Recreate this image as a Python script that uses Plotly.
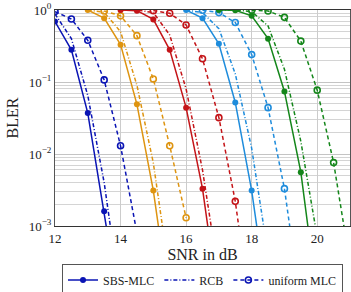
import plotly.graph_objects as go

# ---- data ----
snr_blue = [12, 12.5, 13, 13.5, 14]
sbs_blue = [0.69, 0.28, 0.037, 0.0016, 0.00006]
rcb_blue = [0.88, 0.40, 0.065, 0.0040, 0.0001]
uni_blue_x = [12, 12.5, 13, 13.5, 14, 14.5]
uni_blue = [0.95, 0.75, 0.38, 0.107, 0.013, 0.0008]

snr_orange = [13, 13.5, 14, 14.5, 15, 15.5]
sbs_orange = [1.0, 0.77, 0.33, 0.049, 0.0031, 0.00008]
rcb_orange = [1.0, 0.93, 0.50, 0.09, 0.0075, 0.0002]
uni_orange_x = [13.5, 14, 14.5, 15, 15.5, 16]
uni_orange = [0.97, 0.83, 0.44, 0.11, 0.013, 0.0013]

snr_red = [14, 14.5, 15, 15.5, 16, 16.5, 17]
sbs_red = [1.0, 0.98, 0.74, 0.28, 0.044, 0.0033, 0.00008]
rcb_red = [1.0, 1.0, 0.92, 0.45, 0.08, 0.006, 0.0002]
uni_red_x = [15, 15.5, 16, 16.5, 17, 17.5, 18]
uni_red = [0.98, 0.90, 0.62, 0.21, 0.032, 0.0022, 0.00005]

snr_lblue = [16, 16.5, 17, 17.5, 18, 18.5]
sbs_lblue = [1.0, 0.77, 0.34, 0.052, 0.0031, 0.00008]
rcb_lblue = [1.0, 0.92, 0.55, 0.13, 0.012, 0.0004]
uni_lblue_x = [16.5, 17, 17.5, 18, 18.5, 19, 19.5]
uni_lblue = [0.99, 0.92, 0.67, 0.24, 0.044, 0.0033, 0.00008]

snr_green = [17, 17.5, 18, 18.5, 19, 19.5, 20]
sbs_green = [1.0, 0.99, 0.83, 0.40, 0.074, 0.0056, 0.0001]
rcb_green = [1.0, 1.0, 0.95, 0.60, 0.15, 0.015, 0.0007]
uni_green_x = [18, 18.5, 19, 19.5, 20, 20.5, 21]
uni_green = [0.99, 0.97, 0.79, 0.37, 0.077, 0.0076, 0.0003]

x_ticks = [12, 14, 16, 18, 20]
y_ticks = [1, 0.1, 0.01, 0.001]
y_ticktext = ["10<sup>0</sup>", "10<sup>\u22121</sup>", "10<sup>\u22122</sup>", "10<sup>\u22123</sup>"]

colors = {
    "blue": "#0a14b4",
    "orange": "#de9410",
    "red": "#c41418",
    "lblue": "#1e8cdc",
    "green": "#14861a",
}

groups = [
    ("blue", snr_blue, sbs_blue, rcb_blue, uni_blue_x, uni_blue),
    ("orange", snr_orange, sbs_orange, rcb_orange, uni_orange_x, uni_orange),
    ("red", snr_red, sbs_red, rcb_red, uni_red_x, uni_red),
    ("lblue", snr_lblue, sbs_lblue, rcb_lblue, uni_lblue_x, uni_lblue),
    ("green", snr_green, sbs_green, rcb_green, uni_green_x, uni_green),
]

DASH = "4px,3px"
DASHDOT = "4px,2px,1px,2px"
LW = 1.5

fig = go.Figure()
for name, xs, ysbs, yrcb, xu, yu in groups:
    c = colors[name]
    fig.add_trace(go.Scatter(x=xs, y=yrcb, mode="lines",
                             line=dict(color=c, width=LW, dash=DASHDOT),
                             showlegend=False))
    fig.add_trace(go.Scatter(x=xu, y=yu, mode="lines+markers",
                             line=dict(color=c, width=LW, dash=DASH),
                             marker=dict(symbol="circle-open", size=6, color=c,
                                         line=dict(width=1.6, color=c)),
                             showlegend=False))
    fig.add_trace(go.Scatter(x=xs, y=ysbs, mode="lines+markers",
                             line=dict(color=c, width=LW),
                             marker=dict(symbol="circle", size=6, color=c),
                             showlegend=False))

# legend entries
cb = colors["blue"]
fig.add_trace(go.Scatter(x=[None], y=[None], mode="lines+markers", name="SBS-MLC",
                         line=dict(color=cb, width=LW),
                         marker=dict(symbol="circle", size=6, color=cb)))
fig.add_trace(go.Scatter(x=[None], y=[None], mode="lines", name="RCB",
                         line=dict(color=cb, width=LW, dash=DASHDOT)))
fig.add_trace(go.Scatter(x=[None], y=[None], mode="lines+markers", name="uniform MLC",
                         line=dict(color=cb, width=LW, dash=DASH),
                         marker=dict(symbol="circle-open", size=6, color=cb,
                                     line=dict(width=1.6, color=cb))))

FONT = "Liberation Serif, Times New Roman, serif"
fig.update_layout(
    width=351, height=292,
    margin=dict(l=55, r=1, t=10, b=66, autoexpand=False),
    paper_bgcolor="white", plot_bgcolor="white",
    font=dict(family=FONT, size=13, color="#222"),
    showlegend=True,
    legend=dict(orientation="h", x=0.5, xanchor="center", y=-0.178, yanchor="top",
                bordercolor="#555", borderwidth=1, font=dict(size=12, family=FONT),
                itemwidth=30, tracegroupgap=0, bgcolor="white"),
)
fig.update_xaxes(range=[12, 21], tickvals=x_ticks, showgrid=True, gridcolor="#cccccc",
                 gridwidth=1, showline=True, linecolor="#333", mirror=True,
                 zeroline=False, ticks="", automargin=False,
                 title=dict(text="SNR in dB", standoff=2),
                 tickfont=dict(size=13))
fig.update_yaxes(type="log", range=[-3, 0], tickvals=y_ticks, ticktext=y_ticktext,
                 showgrid=True, gridcolor="#c4c4c4", gridwidth=1,
                 minor=dict(dtick="D1", showgrid=True, gridcolor="#d4d4d4", ticks=""),
                 showline=True, linecolor="#555", mirror=True, zeroline=False,
                 ticks="", automargin=False,
                 title=dict(text="BLER", standoff=6), tickfont=dict(size=13))

fig.write_html("out.html", config={"displayModeBar": False},
               post_script="document.body.style.margin='0px';")
